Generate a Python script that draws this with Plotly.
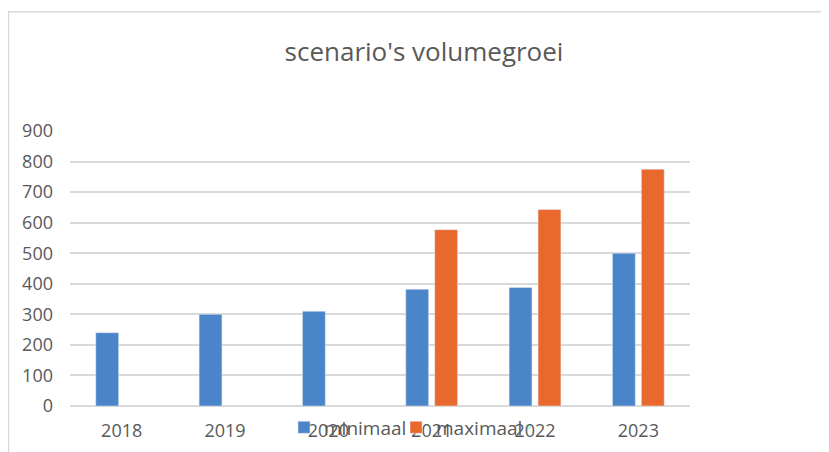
import plotly.graph_objects as go

years = ["2018", "2019", "2020", "2021", "2022", "2023"]
minimaal = [240, 300, 310, 382, 388, 500]
maximaal = [None, None, None, 577, 643, 775]
y_ticks = [0, 100, 200, 300, 400, 500, 600, 700, 800, 900]

FONT = "Open Sans"
GREY = "#595959"
GRID = "#d9d9d9"

fig = go.Figure()
fig.add_trace(go.Bar(x=years, y=minimaal, name="minimaal", marker_color="#4a84c9"))
fig.add_trace(go.Bar(x=years, y=maximaal, name="maximaal", marker_color="#e8692b"))
# empty spacer entry so the last legend label is not clipped
fig.add_trace(go.Scatter(x=[None], y=[None], mode="markers", name=" ",
                         marker=dict(opacity=0), hoverinfo="skip", showlegend=True))

# page body has an 8px margin; coordinates below are in figure (paper) pixels
W, H = 821, 444
L, R, T, B = 62, 682, 122.5, 398
pw, ph = R - L, B - T

def px(x):
    return (x - L) / pw

def py(y):
    return (B - y) / ph

fig.update_layout(
    width=W, height=H,
    margin=dict(l=L, r=W - R, t=T, b=H - B, pad=0, autoexpand=False),
    paper_bgcolor="white", plot_bgcolor="white",
    font=dict(family=FONT, color=GREY, size=18),
    barmode="group", bargap=0.44, bargroupgap=0.21,
    title=dict(text="scenario's volumegroei", x=416 / W, xanchor="center",
               y=1 - 44 / H, yanchor="middle", yref="container",
               font=dict(family=FONT, size=26, color=GREY)),
    xaxis=dict(showgrid=False, showline=False, ticks="", ticklabelstandoff=12,
               tickfont=dict(size=18, color=GREY)),
    yaxis=dict(range=[0, 900], tickvals=y_ticks, showgrid=True, gridcolor=GRID,
               gridwidth=1.5, zeroline=True, zerolinecolor=GRID, zerolinewidth=1.5,
               ticks="", ticklabelstandoff=16, tickfont=dict(size=18, color=GREY)),
    legend=dict(orientation="h", x=px(276), xanchor="left", y=py(419.5), yanchor="middle",
                bgcolor="rgba(0,0,0,0)", font=dict(size=19, color=GREY),
                itemwidth=30, entrywidth=67, entrywidthmode="pixels",
                itemclick=False, itemdoubleclick=False),
    shapes=[
        dict(type="line", xref="paper", yref="paper", x0=px(0.5), x1=px(0.5), y0=py(3), y1=py(460),
             line=dict(color=GRID, width=1.5)),
        dict(type="line", xref="paper", yref="paper", x0=px(0), x1=px(835), y0=py(3), y1=py(3),
             line=dict(color=GRID, width=1.5)),
    ],
)

fig.write_html("out.html")
